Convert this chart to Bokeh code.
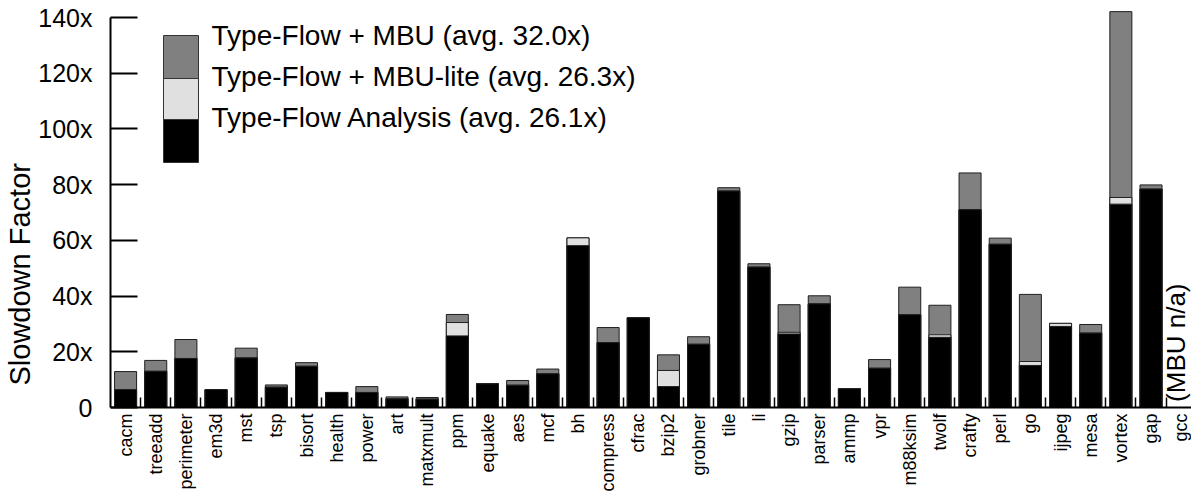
import math
import numpy as np
from bokeh.plotting import figure
from bokeh.models import ColumnDataSource, FixedTicker, Label, BoxAnnotation, Title
from bokeh.embed import file_html
from bokeh.resources import INLINE

# ---------------- data ----------------
benchmarks = ["cacm", "treeadd", "perimeter", "em3d", "mst", "tsp", "bisort", "health",
              "power", "art", "matxmult", "ppm", "equake", "aes", "mcf", "bh", "compress",
              "cfrac", "bzip2", "grobner", "tile", "li", "gzip", "parser", "ammp", "vpr",
              "m88ksim", "twolf", "crafty", "perl", "go", "ijpeg", "mesa", "vortex", "gap", "gcc"]

type_flow = [6.4, 13.0, 17.6, 6.4, 17.8, 7.3, 14.8, 5.4, 5.4, 3.1, 3.0, 25.7, 8.5, 8.0,
             12.1, 58.1, 23.3, 32.2, 7.5, 22.7, 77.7, 50.4, 26.4, 37.2, 6.7, 14.1, 33.3,
             25.2, 71.0, 58.6, 15.1, 29.1, 26.7, 73.0, 78.4, np.nan]

mbu_lite = [6.4, 13.0, 17.6, 6.4, 17.8, 7.3, 14.8, 5.4, 5.4, 3.1, 3.0, 30.5, 8.5, 8.0,
            12.1, 60.9, 23.3, 32.2, 13.3, 22.7, 77.7, 50.4, 27.0, 37.2, 6.7, 14.1, 33.3,
            26.1, 71.0, 58.6, 16.5, 30.2, 26.7, 75.4, 78.4, np.nan]

mbu = [12.9, 16.9, 24.4, 6.4, 21.3, 8.1, 16.1, 5.4, 7.5, 3.8, 3.6, 33.4, 8.5, 9.7,
       13.8, 60.9, 28.7, 32.2, 18.9, 25.4, 78.9, 51.6, 36.9, 40.1, 6.7, 17.2, 43.2,
       36.7, 84.2, 60.8, 40.6, 30.2, 29.8, 142.1, 79.9, np.nan]

series_labels = ["Type-Flow + MBU (avg. 32.0x)",
                 "Type-Flow + MBU-lite (avg. 26.3x)",
                 "Type-Flow Analysis (avg. 26.1x)"]
series_colors = ["#808080", "#e0e0e0", "#000000"]

y_ticks = [0, 20, 40, 60, 80, 100, 120, 140]
y_tick_labels = ["0", "20x", "40x", "60x", "80x", "100x", "120x", "140x"]
y_title = "Slowdown Factor"
na_note = "(MBU n/a)"

FONT = "Liberation Sans"

# ---------------- layout constants (pixels) ----------------
W, H = 1191, 498
LEFT = 110           # frame left edge
FB = 492             # frame bottom edge (x-axis panel below is tiny)
ZERO = 407           # canvas row of value 0
PX_PER_UNIT = 390 / 140.0

xs = list(range(len(benchmarks)))
src = ColumnDataSource(dict(x=xs,
                            tf=np.array(type_flow, dtype=float),
                            lite=np.array(mbu_lite, dtype=float),
                            mbu=np.array(mbu, dtype=float)))

x_end = -0.5 + (W - LEFT) / 30.16
y_start = -(FB - ZERO) / PX_PER_UNIT
y_end = ZERO / PX_PER_UNIT

p = figure(width=W, height=H, x_range=(-0.5, x_end), y_range=(y_start, y_end),
           output_backend="svg", toolbar_location=None,
           min_border_left=LEFT, min_border_bottom=H - FB, min_border_top=0,
           min_border_right=0)
p.outline_line_color = None
p.xgrid.visible = False
p.ygrid.visible = False
p.background_fill_color = "white"
p.border_fill_color = "white"

bw = 0.73
outline = "#1e1e1e"
p.vbar(x="x", top="mbu", bottom=0, width=bw, source=src,
       fill_color=series_colors[0], line_color=outline, line_width=1)
p.vbar(x="x", top="lite", bottom=0, width=bw, source=src,
       fill_color=series_colors[1], line_color=outline, line_width=1)
p.vbar(x="x", top="tf", bottom=0, width=bw, source=src,
       fill_color=series_colors[2], line_color=outline, line_width=1)

# x axis drawn at value 0: short inward ticks between categories
xa = p.xaxis[0]
xa.fixed_location = 0
xa.ticker = FixedTicker(ticks=[i + 0.5 for i in xs[:-1]], minor_ticks=[])
xa.major_label_text_color = None
xa.major_label_text_font_size = "1px"
xa.major_label_standoff = 0
xa.major_tick_in = 10
xa.major_tick_out = 0
xa.major_tick_line_color = "black"
xa.major_tick_line_width = 1.5
xa.axis_line_color = "black"
xa.axis_line_width = 2

# rotated category labels under the axis
for xi, name in zip(xs, benchmarks):
    p.add_layout(Label(x=xi, y=0, text=name, y_offset=-6, angle=math.pi / 2,
                       text_align="right", text_baseline="middle",
                       text_font=FONT, text_font_size="18px", text_color="black"))

# y axis
ya = p.yaxis[0]
ya.ticker = FixedTicker(ticks=y_ticks, minor_ticks=[])
ya.major_label_overrides = {t: l for t, l in zip(y_ticks, y_tick_labels)}
ya.bounds = (0, 140)
ya.major_label_text_font = FONT
ya.major_label_text_font_size = "25px"
ya.major_label_text_color = "black"
ya.major_label_standoff = 18
ya.major_tick_in = 27
ya.major_tick_out = 0
ya.major_tick_line_width = 2
ya.major_tick_line_color = "black"
ya.axis_line_color = "black"
ya.axis_line_width = 2

p.add_layout(Title(text=y_title, align="left", offset=FB - 385, standoff=0,
                   text_font=FONT, text_font_size="29px", text_font_style="normal",
                   text_color="black"), "left")

# legend (stacked boxes + labels, as in the original); screen y from frame bottom
def sy(canvas_row):
    return FB - canvas_row

box_left, box_right = 163 - LEFT, 198 - LEFT
box_rows = [35, 78, 119, 162]
for i, c in enumerate(series_colors):
    p.add_layout(BoxAnnotation(left=box_left, right=box_right,
                               top=sy(box_rows[i]), bottom=sy(box_rows[i + 1]),
                               left_units="screen", right_units="screen",
                               top_units="screen", bottom_units="screen",
                               fill_color=c, fill_alpha=1.0,
                               line_color="#333333", line_alpha=1.0, line_width=1))
label_rows = [35, 76, 117]
for txt, row in zip(series_labels, label_rows):
    p.add_layout(Label(x=211 - LEFT, y=sy(row), x_units="screen", y_units="screen",
                       text=txt, text_font=FONT, text_font_size="28px",
                       text_color="black", text_baseline="alphabetic",
                       text_align="left"))

# note for gcc
p.add_layout(Label(x=xs[-1], y=2.0, x_offset=-5, text=na_note, angle=math.pi / 2,
                   text_font=FONT, text_font_size="26px", text_color="black",
                   text_baseline="middle", text_align="left"))

open("out.html", "w").write(file_html(p, INLINE))
